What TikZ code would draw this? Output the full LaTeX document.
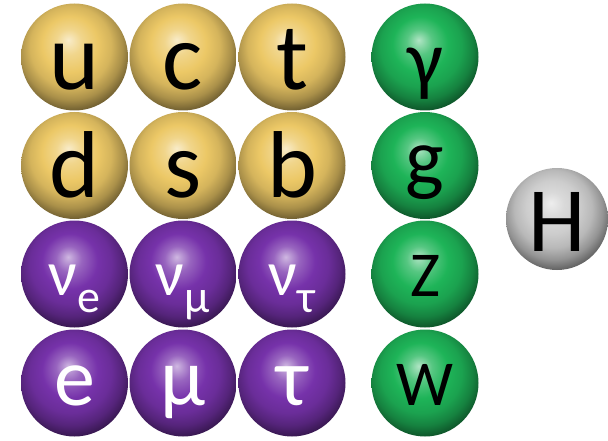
\documentclass[tikz,border=0pt]{standalone}
\usepackage{fontspec}
\setmainfont{Carlito}
\definecolor{qyellow}{RGB}{236,200,102}
\definecolor{lpurple}{RGB}{118,50,170}
\definecolor{bgreen}{RGB}{30,180,88}
\definecolor{hgrey}{RGB}{205,205,205}
\pgfdeclareradialshading[sphcol]{glossy}{\pgfqpoint{-3bp}{8bp}}{%
  color(0bp)=(sphcol!35!white);
  color(6bp)=(sphcol!75!white);
  color(13bp)=(sphcol);
  color(19bp)=(sphcol!90!black);
  color(24bp)=(sphcol!72!black);
  color(28bp)=(sphcol!50!black);
  color(32bp)=(sphcol!35!black);
  color(50bp)=(sphcol!30!black)}
\tikzset{
  sphere/.style={circle, inner sep=0pt, minimum size=107pt},
  quark/.style={sphere, shade, shading=glossy, /utils/exec={\colorlet{sphcol}{qyellow}}},
  lepton/.style={sphere, shade, shading=glossy, /utils/exec={\colorlet{sphcol}{lpurple}}},
  boson/.style={sphere, shade, shading=glossy, /utils/exec={\colorlet{sphcol}{bgreen}}},
  higgs/.style={sphere, minimum size=102pt, shade, shading=glossy, /utils/exec={\colorlet{sphcol}{hgrey}}},
  lab/.style={anchor=base, inner sep=0pt, text=black},
  wlab/.style={anchor=base, inner sep=0pt, text=white},
}
\newcommand{\fsz}[1]{\fontsize{#1}{#1}\selectfont}
\begin{document}
\begin{tikzpicture}[x=1pt,y=-1pt]
\useasboundingbox (0,0) rectangle (608,441);
% quarks
\node[quark] (u) at (74.5,57) {};
\node[quark] (c) at (183,57) {};
\node[quark] (t) at (292,57) {};
\node[quark] (d) at (74.5,165.5) {};
\node[quark] (s) at (183,165.5) {};
\node[quark] (b) at (292,165.5) {};
% leptons
\node[lepton] (ne) at (74.5,274) {};
\node[lepton] (nm) at (183,274) {};
\node[lepton] (nt) at (292,274) {};
\node[lepton] (e) at (74.5,383) {};
\node[lepton] (mu) at (183,383) {};
\node[lepton] (tau) at (292,383) {};
% bosons
\node[boson] (gam) at (425,57) {};
\node[boson] (g) at (425,165.5) {};
\node[boson] (Z) at (425,274) {};
\node[boson] (W) at (425,383) {};
% higgs
\node[higgs] (H) at (557,219) {};
% labels
\node[lab, font=\fsz{95}] (lu) at ([yshift=-33pt]u.center) {u};
\node[lab, font=\fsz{95}] (lc) at ([yshift=-33pt]c.center) {c};
\node[lab, font=\fsz{95}] (lt) at ([yshift=-33pt]t.center) {t};
\node[lab, font=\fsz{95}] (ld) at ([yshift=-32pt]d.center) {d};
\node[lab, font=\fsz{95}] (ls) at ([yshift=-32pt]s.center) {s};
\node[lab, font=\fsz{95}] (lb) at ([yshift=-32pt]b.center) {b};
\node[wlab] (lne) at ([yshift=-21pt]ne.center) {\fsz{64}ν\fsz{46}\raisebox{-17pt}{e}};
\node[wlab] (lnm) at ([yshift=-21pt]nm.center) {\fsz{64}ν\fsz{46}\raisebox{-17pt}{μ}};
\node[wlab] (lnt) at ([yshift=-21pt]nt.center) {\fsz{64}ν\fsz{46}\raisebox{-17pt}{τ}};
\node[wlab, font=\fsz{82}] (le) at ([yshift=-22pt]e.center) {e};
\node[wlab, font=\fsz{82}] (lmu) at ([yshift=-22pt]mu.center) {μ};
\node[wlab, font=\fsz{82}] (ltau) at ([yshift=-22pt]tau.center) {τ};
\node[lab, font=\fsz{80}] (lgam) at ([yshift=-30pt]gam.center) {γ};
\node[lab, font=\fsz{82}] (lg) at ([yshift=-20pt]g.center) {g};
\node[lab, font=\fsz{64}] (lZ) at ([yshift=-22pt]Z.center) {Z};
\node[lab, font=\fsz{64}] (lW) at ([yshift=-22pt]W.center) {W};
\node[lab, font=\fsz{92}] (lH) at ([yshift=-32pt]H.center) {H};
\end{tikzpicture}
\end{document}
